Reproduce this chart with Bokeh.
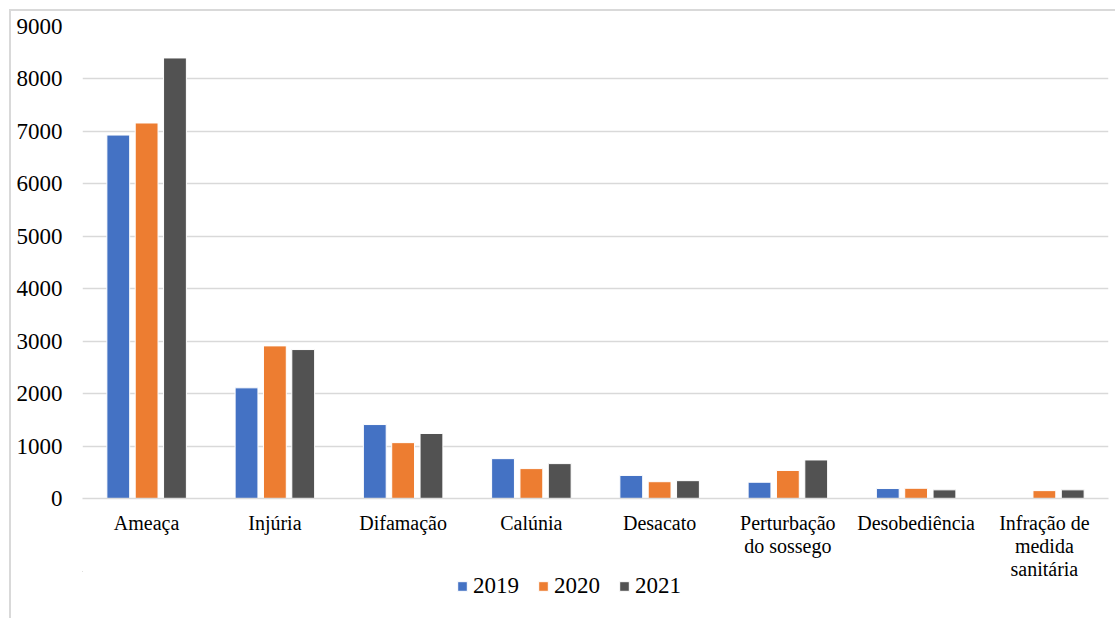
from bokeh.plotting import figure
from bokeh.layouts import column
from bokeh.models import (ColumnDataSource, Range1d, FixedTicker, Legend,
                          LegendItem, LinearAxis)
from bokeh.transform import dodge
from bokeh.embed import file_html
from bokeh.resources import INLINE

# Ocorrências por tipo de crime, 2019-2021
categories = ["Ameaça", "Injúria", "Difamação", "Calúnia", "Desacato",
              "Perturbação do sossego", "Desobediência",
              "Infração de medida sanitária"]
# category names broken into lines under the axis
label_line1 = ["Ameaça", "Injúria", "Difamação", "Calúnia", "Desacato",
               "Perturbação", "Desobediência", "Infração de"]
label_line2 = ["", "", "", "", "", "do sossego", "", "medida"]
label_line3 = ["", "", "", "", "", "", "", "sanitária"]
v2019 = [6930, 2110, 1410, 760, 440, 310, 190, 0]
v2020 = [7160, 2910, 1065, 570, 320, 535, 195, 150]
v2021 = [8400, 2840, 1240, 665, 340, 735, 165, 165]
years = ["2019", "2020", "2021"]
y_ticks = [0, 1000, 2000, 3000, 4000, 5000, 6000, 7000, 8000, 9000]

colors = ["#4472C4", "#ED7D31", "#525252"]
FONT = "Liberation Serif"
GRID = "#d9d9d9"
series = ["v2019", "v2020", "v2021"]

# each category occupies one unit slot on the x scale, centred at i + 0.5
slot = [i + 0.5 for i in range(len(categories))]
source = ColumnDataSource(dict(cat=categories, pos=slot, v2019=v2019,
                               v2020=v2020, v2021=v2021))

p = figure(x_range=Range1d(0, len(categories)), y_range=Range1d(0, 9000),
           width=1104, height=577,
           min_border_left=71, min_border_right=7,
           min_border_top=15, min_border_bottom=90,
           x_axis_location=None,
           output_backend="svg", toolbar_location=None)

for off, col, key in zip([-0.221, 0.0, 0.221], colors, series):
    p.vbar(x=dodge("pos", off), top=key, width=0.178,
           source=source, fill_color=col, line_color="white",
           line_width=1)

p.outline_line_color = None
p.xgrid.grid_line_color = None
p.ygrid.grid_line_color = GRID
p.ygrid.grid_line_width = 1.5

p.yaxis.ticker = FixedTicker(ticks=y_ticks)
p.yaxis.axis_line_color = None
p.yaxis.major_tick_line_color = None
p.yaxis.minor_tick_line_color = None
p.yaxis.major_tick_out = 0
p.yaxis.major_tick_in = 0
p.yaxis.major_label_standoff = 20
p.yaxis.major_label_text_font = FONT
p.yaxis.major_label_text_font_size = "23px"
p.yaxis.major_label_text_color = "black"

# three stacked label axes, one per text line of the category names
for n, lines in enumerate((label_line1, label_line2, label_line3)):
    pos = [slot[i] for i, t in enumerate(lines) if t]
    ax = LinearAxis(ticker=FixedTicker(ticks=pos),
                    major_label_overrides={slot[i]: t
                                           for i, t in enumerate(lines) if t})
    ax.axis_line_color = GRID if n == 0 else None
    ax.axis_line_width = 1.5
    ax.major_tick_line_color = None
    ax.minor_tick_line_color = None
    ax.major_tick_out = 0
    ax.major_tick_in = 0
    ax.minor_tick_out = 0
    ax.minor_tick_in = 0
    ax.major_label_standoff = 13 if n == 0 else -2
    ax.major_label_text_font = FONT
    ax.major_label_text_font_size = "20px"
    ax.major_label_text_color = "black"
    p.add_layout(ax, "below")

# legend strip under the chart; its ranges keep the key bars out of view
pl = figure(width=1104, height=47, x_range=Range1d(100, 101),
            y_range=Range1d(-2, -1), x_axis_location=None,
            y_axis_location=None, min_border=0,
            output_backend="svg", toolbar_location=None,
            margin=(-17, 0, 0, 0))
pl.outline_line_color = None
pl.grid.visible = False
pl.background_fill_alpha = 0
pl.border_fill_alpha = 0
keys = []
for col, key in zip(colors, series):
    keys.append(pl.vbar(x="pos", top=key, width=0.178, source=source,
                        fill_color=col, line_color="white", line_width=1))

legend = Legend(items=[LegendItem(label=y, renderers=[r], index=0)
                       for y, r in zip(years, keys)],
                orientation="horizontal", location=(374, 19),
                padding=0, margin=0, spacing=18, label_standoff=5,
                glyph_width=12, glyph_height=12,
                label_text_font=FONT, label_text_font_size="23px",
                label_text_color="black", border_line_color=None,
                background_fill_alpha=0)
pl.add_layout(legend, "center")

layout = column(p, pl, spacing=0,
                styles={"margin-left": "9px", "margin-top": "9px",
                        "border-left": "2px solid " + GRID,
                        "border-top": "2px solid " + GRID})

open("out.html", "w").write(file_html(layout, INLINE))
